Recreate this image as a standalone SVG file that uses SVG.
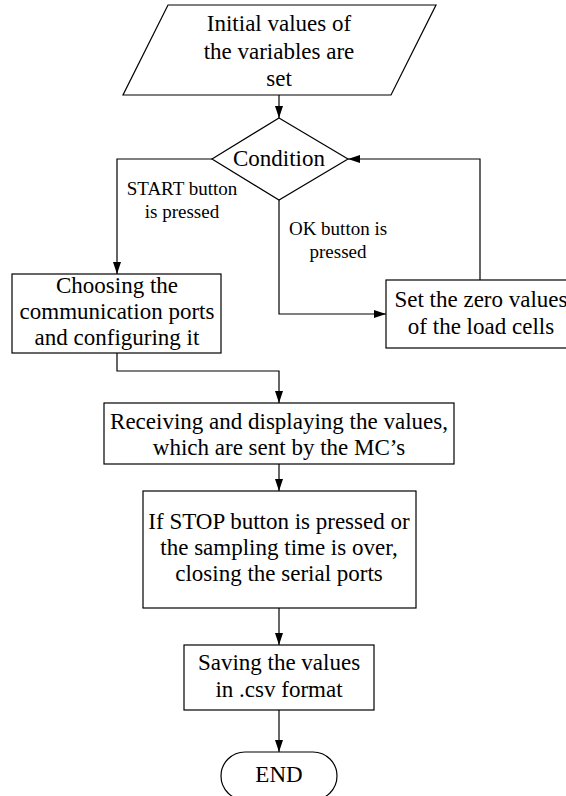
<svg xmlns="http://www.w3.org/2000/svg" width="566" height="796" viewBox="0 0 566 796">
  <style>
    .shape { fill: #ffffff; stroke: #000000; stroke-width: 1.2; }
    .edge { fill: none; stroke: #000000; stroke-width: 1.2; marker-end: url(#arrow); }
    text { fill: #000000; text-anchor: middle; }
    .t { font-size: 23px; }
    .s { font-size: 19px; }
  </style>
  <defs>
    <marker id="arrow" viewBox="0 0 12 8" refX="12" refY="4" markerWidth="12" markerHeight="8" markerUnits="userSpaceOnUse" orient="auto">
      <path d="M0,0 L12,4 L0,8 Z" fill="#000000"/>
    </marker>
  </defs>

  <rect width="566" height="796" fill="#ffffff"/>

  <g font-family="'Liberation Serif', 'DejaVu Serif', serif">
  <!-- connectors -->
  <g id="connectors">
    <path class="edge" d="M279,95 L279,118"/>
    <path class="edge" d="M212,159 L117,159 L117,274"/>
    <path class="edge" d="M279,200 L279,314 L386,314"/>
    <path class="edge" d="M480,280 L480,159 L348,159"/>
    <path class="edge" d="M117,353 L117,371 L279,371 L279,403"/>
    <path class="edge" d="M279,464 L279,491"/>
    <path class="edge" d="M279,608 L279,645"/>
    <path class="edge" d="M279,710 L279,752"/>
    <text class="s" x="182" y="195">START button</text>
    <text class="s" x="182" y="218">is pressed</text>
    <text class="s" x="338" y="235">OK button is</text>
    <text class="s" x="338" y="258">pressed</text>
  </g>

  <g id="init">
    <polygon class="shape" points="168,5 436,5 391,95 123,95"/>
    <text class="t" x="279" y="31">Initial values of</text>
    <text class="t" x="279" y="59">the variables are</text>
    <text class="t" x="279" y="86">set</text>
  </g>

  <g id="condition">
    <polygon class="shape" points="279,118 348,159 279,200 212,159"/>
    <text class="t" x="279" y="166">Condition</text>
  </g>

  <g id="choose-ports">
    <rect class="shape" x="12" y="274" width="209" height="79"/>
    <text class="t" x="117" y="293">Choosing the</text>
    <text class="t" x="117" y="319">communication ports</text>
    <text class="t" x="117" y="345">and configuring it</text>
  </g>

  <g id="zero-values">
    <rect class="shape" x="386" y="280" width="190" height="68"/>
    <text class="t" x="481" y="307">Set the zero values</text>
    <text class="t" x="481" y="334">of the load cells</text>
  </g>

  <g id="receive">
    <rect class="shape" x="104" y="403" width="350" height="61"/>
    <text class="t" x="279" y="429">Receiving and displaying the values,</text>
    <text class="t" x="279" y="455">which are sent by the MC’s</text>
  </g>

  <g id="stop">
    <rect class="shape" x="143" y="491" width="273" height="117"/>
    <text class="t" x="279" y="529">If STOP button is pressed or</text>
    <text class="t" x="279" y="555">the sampling time is over,</text>
    <text class="t" x="279" y="581">closing the serial ports</text>
  </g>

  <g id="save">
    <rect class="shape" x="184" y="645" width="190" height="65"/>
    <text class="t" x="279" y="670">Saving the values</text>
    <text class="t" x="279" y="697">in .csv format</text>
  </g>

  <g id="end">
    <rect class="shape" x="221" y="752" width="116" height="48" rx="24" ry="24"/>
    <text class="t" x="279" y="782">END</text>
  </g>
  </g>
</svg>
